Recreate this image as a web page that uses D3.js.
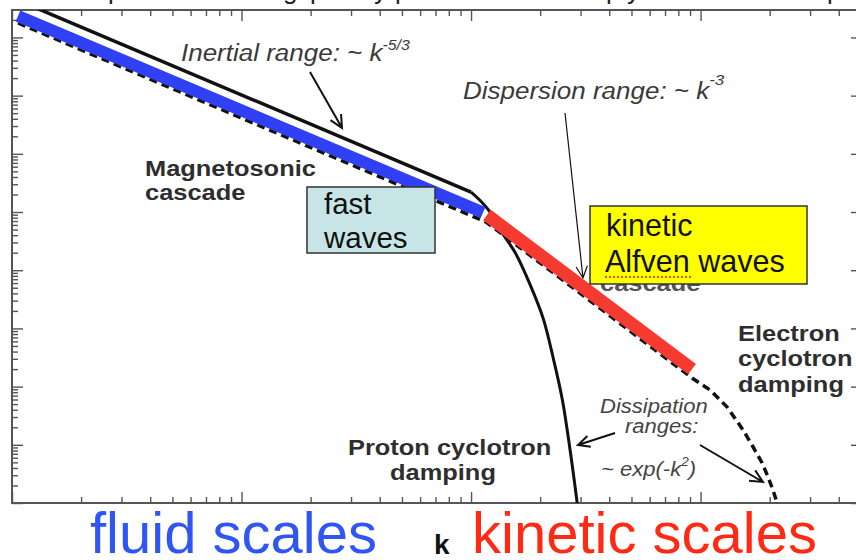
<!DOCTYPE html>
<html><head><meta charset="utf-8">
<script src="https://cdn.jsdelivr.net/npm/d3@7/dist/d3.min.js"></script>
<style>
html,body{margin:0;padding:0;background:#fff;}
svg{display:block;font-family:"Liberation Sans",Arial,Helvetica,sans-serif;}
</style></head><body>
<svg id="chart" width="856" height="560"></svg>
<script>
// ---------- data: wavenumber k and spectral power E(k) ----------
const inertialK = [1, 100];                 // solid black, ~k^-5/3
const inertialE = [4.8e8, 2.2e5];
const fluidK = [1.062, 112.8];              // thick blue (fluid, fast waves)
const fluidE = [2.33e8, 9.8e4];
const kawK = [117.4, 918];                  // thick red (kinetic Alfven waves)
const kawE = [8.88e4, 200];
const protonK = [100, 109, 121, 136, 156, 181, 206, 228, 250, 270, 290];   // proton cyclotron damping
const protonE = [2.2e5, 1.61e5, 1.0e5, 4.5e4, 1.98e4, 5.6e3, 1.5e3, 310, 59, 8.2, 1];
const cascadeK = [1.062, 116.3, 918, 1100, 1305, 1532, 1694, 1854, 1968, 2068, 2154]; // dashed cascade + electron damping
const cascadeE = [1.77e8, 6.73e4, 140.6, 87.4, 44.6, 17.96, 9.17, 4.87, 2.80, 1.67, 1];
const xMajorTicks = [1, 10, 100, 1000];
const yMajorTicks = [1, 1e1, 1e2, 1e3, 1e4, 1e5, 1e6, 1e7, 1e8];
const minorSteps = [2, 3, 4, 5, 6, 7, 8, 9];
const kDomain = [1, 5050];
const eDomain = [1, 2.96e8];

// ---------- scales ----------
const svg = d3.select("#chart");
const x = d3.scaleLog().domain(kDomain).range([12, 862]);
const y = d3.scaleLog().domain(eDomain).range([503, 10]);
const zip = (ks, es) => ks.map((k, i) => ({k, e: es[i]}));
const line = d3.line().x(d => x(d.k)).y(d => y(d.e));
const smooth = d3.line().x(d => x(d.k)).y(d => y(d.e)).curve(d3.curveCatmullRom.alpha(0.5));

svg.append("defs").append("clipPath").attr("id", "plot")
  .append("rect").attr("x", 12).attr("y", 10).attr("width", 850).attr("height", 493);

// fragments of a title cut off above the picture (descenders only)
const topFrag = svg.append("text").attr("font-size", 26).attr("fill", "#222").attr("y", -1);
[["p",108],["g",283],["p",310],["y",374],["p",395],["p",606],["y",627],["p",827]].forEach(([c, px]) =>
  topFrag.append("tspan").attr("x", px).text(c));

// ---------- axes (ticks pointing inward on all four sides) ----------
const minorOf = (majors, max) => majors.flatMap(m => minorSteps.map(s => s * m)).filter(v => v < max);
const xMinor = minorOf(xMajorTicks, kDomain[1]);
const yMinor = minorOf(yMajorTicks, eDomain[1]);
function axis(gen, tr, vals, size) {
  svg.append("g").attr("class", "ax").attr("transform", tr)
    .call(gen.tickValues(vals).tickSize(size).tickSizeOuter(0).tickFormat(""))
    .call(g => g.select(".domain").remove());
}
axis(d3.axisBottom(x), "translate(0,503)", xMajorTicks, -11);
axis(d3.axisBottom(x), "translate(0,503)", xMinor, -6);
axis(d3.axisTop(x), "translate(0,10)", xMajorTicks, -11);
axis(d3.axisTop(x), "translate(0,10)", xMinor, -6);
axis(d3.axisLeft(y), "translate(12,0)", yMajorTicks, -11);
axis(d3.axisLeft(y), "translate(12,0)", yMinor, -6);
axis(d3.axisRight(y), "translate(862,0)", yMajorTicks, -11);
axis(d3.axisRight(y), "translate(862,0)", yMinor, -6);
svg.selectAll(".ax line").attr("stroke", "#555").attr("stroke-width", 1.4);
svg.append("rect").attr("x", 12).attr("y", 10).attr("width", 850).attr("height", 493)
  .attr("fill", "none").attr("stroke", "#555").attr("stroke-width", 2);

// ---------- figure labels (slightly stretched horizontally like the source) ----------
const SX = 1.13;
function label(lines, px, py, opt) {
  const t = svg.append("text")
    .attr("transform", `translate(${px},${py}) scale(${SX},1)`)
    .attr("font-size", opt.size).attr("fill", opt.fill || "#3a3a3a")
    .attr("font-weight", opt.bold ? "bold" : "normal")
    .attr("font-style", opt.italic ? "italic" : "normal");
  lines.forEach(l => {
    const ts = t.append("tspan").attr("x", 0).attr("y", l.y || 0).text(l.t);
    if (l.sup) {
      t.append("tspan").attr("dy", l.supDy).attr("font-size", l.supSize).text(l.sup);
      if (l.after) t.append("tspan").attr("dy", -l.supDy).text(l.after);
    }
  });
  return t;
}
label([{t: "Inertial range: ~ k", sup: "-5/3", supDy: -11, supSize: 14}], 181, 61, {size: 23, italic: true});
label([{t: "Dispersion range: ~ k", sup: "-3", supDy: -14, supSize: 15}], 463, 99, {size: 23, italic: true});
label([{t: "Magnetosonic"}, {t: "cascade", y: 24}], 145, 176, {size: 22.5, bold: true, fill: "#2e2e2e"});
label([{t: "cascade"}], 600, 291, {size: 22.5, bold: true, fill: "#555"});
label([{t: "Proton cyclotron"}], 348, 455, {size: 22.5, bold: true, fill: "#2e2e2e"});
label([{t: "damping"}], 390, 480, {size: 22.5, bold: true, fill: "#2e2e2e"});
label([{t: "Electron"}, {t: "cyclotron", y: 25}, {t: "damping", y: 51}], 738, 341, {size: 22.5, bold: true, fill: "#2e2e2e"});
label([{t: "Dissipation"}], 600, 413, {size: 19.5, italic: true, fill: "#444"});
label([{t: "ranges:"}], 625, 433, {size: 19.5, italic: true, fill: "#444"});
label([{t: "~ exp(-k", sup: "2", supDy: -10, supSize: 12, after: ")"}], 601, 476, {size: 19.5, italic: true, fill: "#444"});

// ---------- curves ----------
const plot = svg.append("g").attr("clip-path", "url(#plot)");
plot.append("path").attr("d", line(zip(inertialK, inertialE)))
  .attr("fill", "none").attr("stroke", "#111").attr("stroke-width", 3.5);
plot.append("path").attr("d", smooth(zip(protonK, protonE)))
  .attr("fill", "none").attr("stroke", "#111").attr("stroke-width", 3);
plot.append("path").attr("d", line(zip(cascadeK, cascadeE)))
  .attr("fill", "none").attr("stroke", "#111").attr("stroke-width", 3.5)
  .attr("stroke-dasharray", "8,5");
plot.append("path").attr("d", line(zip(fluidK, fluidE)))
  .attr("fill", "none").attr("stroke", "#3040f5").attr("stroke-width", 12);
plot.append("path").attr("d", line(zip(kawK, kawE)))
  .attr("fill", "none").attr("stroke", "#f53b30").attr("stroke-width", 13);

// ---------- arrows ----------
function arrow(x1, y1, x2, y2, w, len) {
  const a = Math.atan2(y2 - y1, x2 - x1), s = 0.45;
  const p1 = [x2 - len * Math.cos(a - s), y2 - len * Math.sin(a - s)];
  const p2 = [x2 - len * Math.cos(a + s), y2 - len * Math.sin(a + s)];
  svg.append("path")
    .attr("d", `M${x1},${y1}L${x2},${y2}M${p1[0]},${p1[1]}L${x2},${y2}L${p2[0]},${p2[1]}`)
    .attr("fill", "none").attr("stroke", "#111").attr("stroke-width", w)
    .attr("stroke-linejoin", "miter");
}
arrow(310, 72, 342, 128, 2, 14);
arrow(565, 113, 583, 278, 1.2, 13);
arrow(615, 433, 578, 445, 2, 13);
arrow(700, 445, 763, 482, 2, 14);

// ---------- overlay boxes ----------
svg.append("rect").attr("x", 307).attr("y", 187).attr("width", 128).attr("height", 66)
  .attr("fill", "#c7e5e7").attr("stroke", "#333").attr("stroke-width", 1.5);
svg.append("text").attr("x", 324).attr("y", 214).attr("font-size", 29.5).attr("fill", "#111").text("fast");
svg.append("text").attr("x", 324).attr("y", 248).attr("font-size", 29.5).attr("fill", "#111").text("waves");

svg.append("rect").attr("x", 590).attr("y", 206).attr("width", 217).attr("height", 78)
  .attr("fill", "#ffff00").attr("stroke", "#333").attr("stroke-width", 1.5);
svg.append("text").attr("x", 606).attr("y", 236).attr("font-size", 30.5).attr("fill", "#111").text("kinetic");
svg.append("text").attr("x", 605).attr("y", 272).attr("font-size", 30.5).attr("fill", "#111").text("Alfven waves");
svg.append("line").attr("x1", 605).attr("x2", 693).attr("y1", 277).attr("y2", 277)
  .attr("stroke", "#e01010").attr("stroke-width", 1.6).attr("stroke-dasharray", "2,2");

// ---------- bottom captions ----------
svg.append("text").attr("x", 90).attr("y", 553).attr("font-size", 58).attr("fill", "#2f55f5").text("fluid scales");
svg.append("text").attr("x", 434).attr("y", 554).attr("font-size", 28).attr("font-weight", "bold").attr("fill", "#111").text("k");
svg.append("text").attr("x", 472).attr("y", 553).attr("font-size", 58).attr("fill", "#ff2a14").text("kinetic scales");
</script>
</body></html>
